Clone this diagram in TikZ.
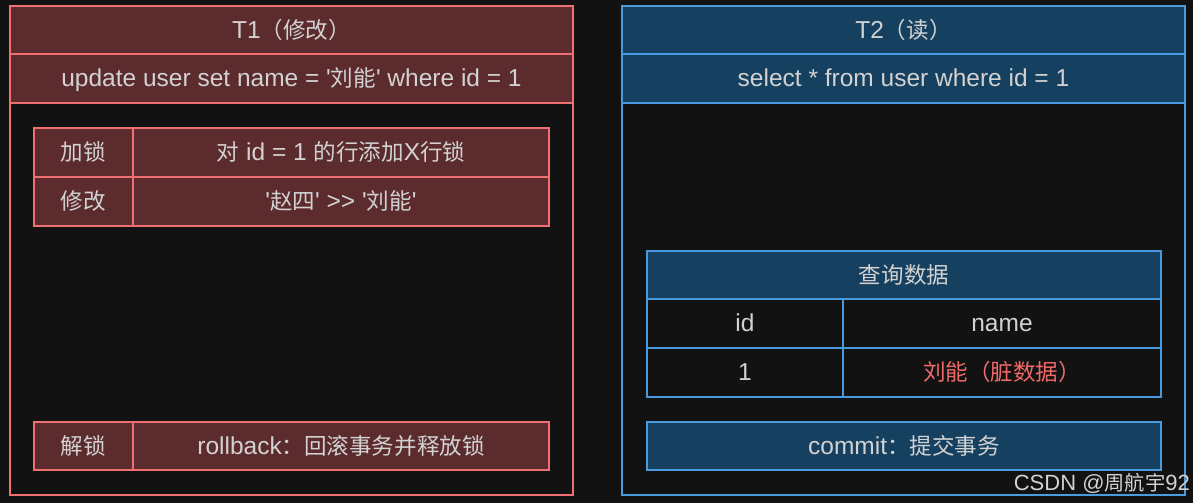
\documentclass[tikz,border=0pt]{standalone}
\usepackage{fontspec}
\setmainfont{Liberation Sans}
\newfontfamily\cjk{Noto Sans CJK SC}[Scale=0.92]
\usetikzlibrary{positioning}

\definecolor{bgdark}{HTML}{121212}
\definecolor{redfill}{HTML}{5C2B2E}
\definecolor{redline}{HTML}{EE7070}
\definecolor{bluefill}{HTML}{16405F}
\definecolor{blueline}{HTML}{4A9AE0}
\definecolor{txt}{HTML}{D2D2D2}
\definecolor{dirty}{HTML}{F06A6A}

\newcommand{\sq}{\textquotesingle}

\begin{document}
\begin{tikzpicture}[%
            x=1pt, y=-1pt,
            node distance=0pt,
            cell/.style={draw, line width=2pt, outer sep=0pt, inner sep=0pt,
              text=txt, font=\fontsize{24.5}{28}\selectfont,
              text height=19pt, text depth=3pt, anchor=north west},
            redcell/.style={cell, draw=redline, fill=redfill},
            bluecell/.style={cell, draw=blueline, fill=bluefill},
            redbody/.style={cell, draw=redline, fill=bgdark},
            bluebody/.style={cell, draw=blueline, fill=bgdark}
            ]
            \fill[bgdark] (0,0) rectangle (1193,503);
            \useasboundingbox (0,0) rectangle (1193,503);

            % T1
            \node[redcell, minimum width=563pt, minimum height=48pt] (t1title) at (10,6) {T1{\cjk（修改）}};
            \node[redcell, minimum width=563pt, minimum height=49pt] (t1sql) [below=of t1title] {update user set name = \sq{\cjk 刘能}\sq{} where id = 1};
            \node[redbody, minimum width=563pt, minimum height=392pt] (t1body) [below=of t1sql] {};

            \node[redcell, minimum width=99pt, minimum height=49pt] (lock) at (34,128) {\cjk 加锁};
            \node[redcell, minimum width=416pt, minimum height=49pt] (locktext) [right=of lock] {{\cjk 对} id = 1 {\cjk 的行添加}X{\cjk 行锁}};
            \node[redcell, minimum width=99pt, minimum height=49pt] (modify) [below=of lock] {\cjk 修改};
            \node[redcell, minimum width=416pt, minimum height=49pt] (modifytext) [right=of modify] {\sq{\cjk 赵四}\sq{} {>}{>} \sq{\cjk 刘能}\sq};

            \node[redcell, minimum width=99pt, minimum height=48pt] (unlock) at (34,422) {\cjk 解锁};
            \node[redcell, minimum width=416pt, minimum height=48pt] (unlocktext) [right=of unlock] {rollback{\cjk ：回滚事务并释放锁}};

            % T2
            \node[bluecell, minimum width=563pt, minimum height=48pt] (t2title) at (622,6) {T2{\cjk（读）}};
            \node[bluecell, minimum width=563pt, minimum height=49pt] (t2sql) [below=of t2title] {select * from user where id = 1};
            \node[bluebody, minimum width=563pt, minimum height=392pt] (t2body) [below=of t2sql] {};

            \node[bluecell, minimum width=514pt, minimum height=48pt] (query) at (647,251) {\cjk 查询数据};
            \node[bluebody, minimum width=196pt, minimum height=49pt, anchor=north west] (colid) at (query.south west) {id};
            \node[bluebody, minimum width=318pt, minimum height=49pt] (colname) [right=of colid] {name};
            \node[bluebody, minimum width=196pt, minimum height=49pt] (valid) [below=of colid] {1};
            \node[bluebody, minimum width=318pt, minimum height=49pt, text=dirty] (valname) [right=of valid] {\cjk 刘能（脏数据）};

            \node[bluecell, minimum width=514pt, minimum height=48pt] (commit) at (647,422) {commit{\cjk ：提交事务}};

            \node[text=txt, anchor=south east, inner sep=0pt, font=\fontsize{22}{26}\selectfont] (mark) at (1190,494) {CSDN @{\cjk 周航宇}92};
        \end{tikzpicture}
\end{document}
